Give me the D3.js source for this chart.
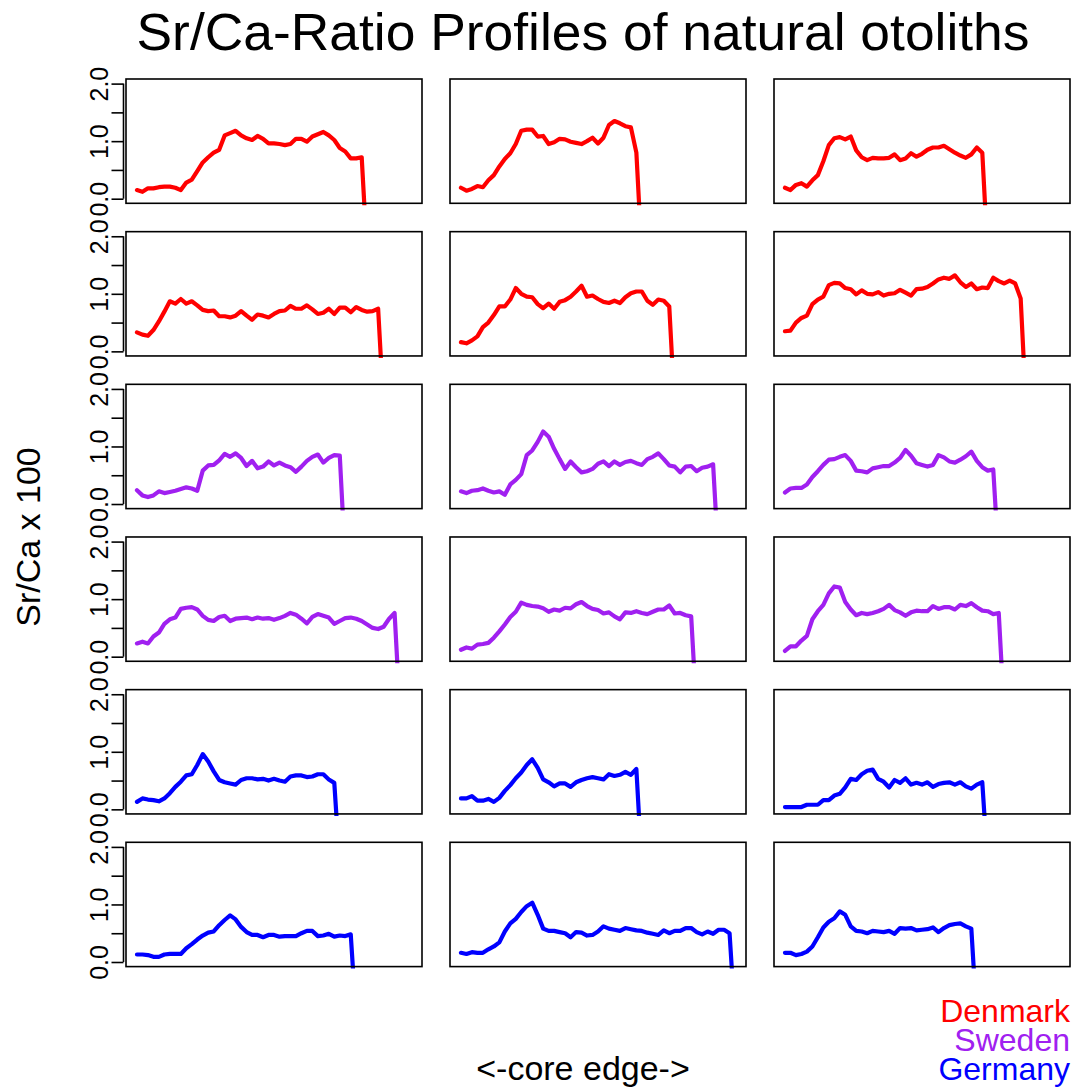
<!DOCTYPE html>
<html>
<head>
<meta charset="utf-8">
<script src="https://cdn.jsdelivr.net/npm/d3@7"></script>
<style>
  html, body { margin: 0; padding: 0; background: #fff; }
  svg { display: block; font-family: "Liberation Sans", Arial, Helvetica, sans-serif; }
</style>
</head>
<body>
<svg id="chart" width="1078" height="1090"></svg>
<script>
// Sr/Ca x 100 profiles, core (left) to edge (right), one reading every 20 units.
// The last reading of each profile is the off-scale drop at the otolith edge.
const dk1 = [0.15,0.12,0.18,0.18,0.20,0.21,0.21,0.19,0.15,0.28,0.33,0.48,0.63,0.72,0.80,0.85,1.10,1.14,1.18,1.10,1.05,1.02,1.09,1.04,0.96,0.96,0.95,0.93,0.95,1.04,1.04,0.99,1.08,1.12,1.16,1.10,1.02,0.88,0.82,0.70,0.70,0.72,-1];
const dk2 = [0.19,0.14,0.17,0.22,0.20,0.32,0.41,0.56,0.69,0.79,0.95,1.18,1.20,1.20,1.08,1.09,0.95,0.98,1.04,1.03,0.99,0.97,0.95,1.00,1.06,0.96,1.06,1.28,1.35,1.31,1.26,1.24,0.80,-1];
const dk3 = [0.19,0.15,0.24,0.27,0.21,0.32,0.41,0.65,0.93,1.05,1.07,1.03,1.08,0.84,0.72,0.67,0.71,0.70,0.70,0.71,0.77,0.67,0.70,0.79,0.73,0.78,0.85,0.89,0.89,0.92,0.86,0.80,0.75,0.71,0.77,0.89,0.80,-1];
const dk4 = [0.33,0.29,0.27,0.37,0.52,0.69,0.87,0.83,0.91,0.83,0.87,0.80,0.72,0.70,0.71,0.61,0.61,0.59,0.62,0.70,0.62,0.55,0.64,0.62,0.59,0.65,0.70,0.71,0.79,0.74,0.74,0.80,0.73,0.65,0.67,0.74,0.65,0.76,0.76,0.68,0.77,0.72,0.69,0.70,0.74,-1];
const dk5 = [0.16,0.14,0.19,0.26,0.42,0.50,0.63,0.78,0.78,0.90,1.10,1.00,0.95,0.94,0.82,0.75,0.83,0.74,0.86,0.89,0.95,1.04,1.14,0.95,0.97,0.91,0.86,0.84,0.88,0.84,0.94,1.01,1.04,1.04,0.88,0.81,0.90,0.88,0.78,-1];
const dk6 = [0.35,0.36,0.50,0.58,0.62,0.82,0.90,0.95,1.15,1.19,1.18,1.10,1.08,0.99,1.06,1.00,0.99,1.03,0.97,1.00,1.01,1.07,1.02,0.97,1.08,1.09,1.12,1.18,1.25,1.28,1.26,1.32,1.20,1.12,1.18,1.08,1.11,1.10,1.28,1.22,1.18,1.23,1.18,0.92,-1];

const se1 = [0.24,0.15,0.12,0.15,0.22,0.19,0.21,0.23,0.26,0.29,0.27,0.23,0.58,0.67,0.68,0.76,0.87,0.82,0.88,0.80,0.66,0.75,0.62,0.65,0.74,0.67,0.72,0.67,0.64,0.56,0.65,0.75,0.82,0.86,0.72,0.80,0.85,0.84,-1];
const se2 = [0.22,0.19,0.23,0.24,0.27,0.23,0.20,0.22,0.16,0.34,0.42,0.52,0.85,0.93,1.08,1.26,1.17,0.96,0.78,0.61,0.74,0.64,0.55,0.57,0.61,0.70,0.74,0.66,0.74,0.68,0.73,0.75,0.71,0.68,0.78,0.82,0.88,0.78,0.67,0.65,0.55,0.65,0.66,0.57,0.63,0.65,0.69,-1];
const se3 = [0.20,0.27,0.28,0.28,0.34,0.47,0.57,0.68,0.77,0.78,0.82,0.85,0.75,0.58,0.57,0.55,0.62,0.64,0.66,0.66,0.72,0.80,0.94,0.84,0.71,0.68,0.65,0.68,0.85,0.81,0.74,0.72,0.77,0.83,0.91,0.75,0.64,0.58,0.60,-1];
const se4 = [0.23,0.26,0.23,0.35,0.42,0.57,0.65,0.68,0.83,0.85,0.86,0.82,0.71,0.64,0.62,0.69,0.71,0.62,0.66,0.67,0.68,0.65,0.68,0.66,0.67,0.64,0.67,0.71,0.76,0.73,0.66,0.58,0.69,0.74,0.71,0.68,0.57,0.62,0.67,0.68,0.66,0.62,0.56,0.50,0.48,0.52,0.66,0.76,-1];
const se5 = [0.12,0.16,0.14,0.21,0.22,0.24,0.33,0.44,0.56,0.69,0.78,0.94,0.90,0.88,0.87,0.84,0.78,0.82,0.80,0.85,0.84,0.91,0.95,0.88,0.83,0.81,0.75,0.77,0.70,0.65,0.77,0.76,0.79,0.76,0.74,0.78,0.82,0.82,0.89,0.75,0.76,0.72,0.70,-1];
const se6 = [0.10,0.18,0.18,0.28,0.36,0.65,0.79,0.90,1.10,1.22,1.20,0.95,0.82,0.72,0.76,0.74,0.76,0.79,0.83,0.90,0.81,0.77,0.71,0.77,0.80,0.79,0.79,0.88,0.83,0.86,0.86,0.82,0.90,0.88,0.93,0.86,0.80,0.79,0.74,0.76,-1];

const de1 = [0.13,0.19,0.17,0.16,0.14,0.19,0.28,0.39,0.48,0.59,0.61,0.77,0.96,0.83,0.66,0.51,0.47,0.45,0.43,0.51,0.54,0.54,0.52,0.53,0.50,0.53,0.50,0.48,0.57,0.59,0.59,0.56,0.57,0.61,0.61,0.52,0.46,-1];
const de2 = [0.19,0.19,0.23,0.15,0.15,0.18,0.13,0.20,0.32,0.42,0.54,0.64,0.77,0.87,0.72,0.52,0.47,0.40,0.45,0.45,0.39,0.47,0.51,0.54,0.56,0.54,0.52,0.61,0.58,0.60,0.65,0.60,0.70,-1];
const de3 = [0.04,0.04,0.04,0.04,0.08,0.08,0.08,0.16,0.16,0.24,0.27,0.38,0.53,0.51,0.61,0.67,0.69,0.53,0.48,0.38,0.51,0.46,0.54,0.43,0.46,0.43,0.47,0.39,0.44,0.46,0.47,0.43,0.47,0.40,0.36,0.43,0.47,-1];
const de4 = [0.13,0.13,0.12,0.09,0.09,0.13,0.14,0.14,0.14,0.24,0.31,0.39,0.46,0.51,0.53,0.64,0.73,0.81,0.74,0.61,0.52,0.47,0.47,0.43,0.47,0.47,0.44,0.45,0.45,0.45,0.50,0.54,0.54,0.45,0.46,0.49,0.44,0.46,0.45,0.48,-1];
const de5 = [0.16,0.14,0.17,0.16,0.16,0.22,0.27,0.34,0.53,0.67,0.75,0.87,0.97,1.03,0.82,0.58,0.54,0.54,0.52,0.50,0.43,0.52,0.51,0.46,0.47,0.53,0.62,0.58,0.56,0.54,0.59,0.57,0.55,0.54,0.51,0.49,0.47,0.55,0.50,0.54,0.54,0.59,0.59,0.52,0.48,0.53,0.49,0.56,0.56,0.50,-1];
const de6 = [0.16,0.16,0.12,0.14,0.18,0.27,0.43,0.60,0.70,0.76,0.88,0.82,0.62,0.54,0.53,0.50,0.54,0.53,0.52,0.54,0.49,0.59,0.58,0.59,0.55,0.56,0.57,0.60,0.52,0.59,0.64,0.66,0.67,0.62,0.58,-1];

// Panels in reading order (row by row, three per row) and their country
const profiles = [dk1, dk2, dk3, dk4, dk5, dk6, se1, se2, se3, se4, se5, se6, de1, de2, de3, de4, de5, de6];
const panelCountry = [0,0,0,0,0,0, 1,1,1,1,1,1, 2,2,2,2,2,2];
const countries = ["Denmark", "Sweden", "Germany"];
const countryColors = ["#FF0000", "#A020F0", "#0000FF"];

const sampleStep = 20;
const xLimits = [0, 1000];
const yLimits = [0, 2];
const yTicks = [0, 0.5, 1, 1.5, 2];
const yLabelled = [0, 1, 2];

const titleText = "Sr/Ca-Ratio Profiles of natural otoliths";
const yTitle = "Sr/Ca x 100";
const xTitle = "<-core edge->";

// ---- layout ----
const svg = d3.select("#chart");
const nCols = 3;
const colLeft = 126, colPitch = 324, panelW = 296;
const rowTop = 79, rowPitch = 152.66, panelH = 124.3;

// R-style 4% range extension on both axes
function padded([a, b]) { const d = (b - a) * 0.04; return [a - d, b + d]; }

const defs = svg.append("defs");

profiles.forEach((vals, k) => {
  const col = k % nCols, row = Math.floor(k / nCols);
  const left = colLeft + col * colPitch;
  const top = rowTop + row * rowPitch;

  const x = d3.scaleLinear().domain(padded(xLimits)).range([left, left + panelW]);
  const y = d3.scaleLinear().domain(padded(yLimits)).range([top + panelH, top]);

  const clipId = "clip" + k;
  defs.append("clipPath").attr("id", clipId)
    .append("rect")
    .attr("x", left).attr("y", top)
    .attr("width", panelW).attr("height", panelH + 2);

  const g = svg.append("g");

  // profile line
  const line = d3.line()
    .x((d, i) => x(i * sampleStep))
    .y(d => y(d));
  g.append("path")
    .datum(vals)
    .attr("clip-path", `url(#${clipId})`)
    .attr("d", line)
    .attr("fill", "none")
    .attr("stroke", countryColors[panelCountry[k]])
    .attr("stroke-width", 4.2)
    .attr("stroke-linejoin", "round")
    .attr("stroke-linecap", "round");

  // panel frame
  g.append("rect")
    .attr("x", left).attr("y", top)
    .attr("width", panelW).attr("height", panelH)
    .attr("fill", "none")
    .attr("stroke", "#000")
    .attr("stroke-width", 1.6);

  // y axis only on the first column: ticks every half unit, labels at whole units
  if (col !== 0) return;
  const axisX = left - 2.5;
  const axis = d3.axisLeft(y)
    .tickValues(yTicks)
    .tickSize(12)
    .tickSizeOuter(0)
    .tickFormat(d => yLabelled.includes(d) ? d3.format(".1f")(d) : "");
  const ag = g.append("g")
    .attr("transform", `translate(${axisX},0)`)
    .call(axis);
  ag.select(".domain")
    .attr("d", `M0,${y(yTicks[0])}V${y(yTicks[yTicks.length - 1])}`)
    .attr("stroke-width", 1.6);
  ag.selectAll(".tick line").attr("stroke-width", 1.6);
  ag.selectAll(".tick text")
    .attr("x", null).attr("dy", null)
    .attr("transform", "translate(-16,0) rotate(-90)")
    .attr("text-anchor", "middle")
    .attr("fill", "#000")
    .style("font-size", "25px")
    .style("font-family", "'Liberation Sans', Arial, sans-serif");
});

// ---- titles ----
svg.append("text")
  .attr("x", 583).attr("y", 50)
  .attr("text-anchor", "middle")
  .attr("textLength", 893)
  .attr("lengthAdjust", "spacingAndGlyphs")
  .style("font-size", "52px")
  .text(titleText);

svg.append("text")
  .attr("transform", "translate(40,537) rotate(-90)")
  .attr("text-anchor", "middle")
  .style("font-size", "34px")
  .text(yTitle);

svg.append("text")
  .attr("x", 583).attr("y", 1080)
  .attr("text-anchor", "middle")
  .style("font-size", "34px")
  .text(xTitle);

// ---- country key ----
const keyBaselines = [1022, 1050.5, 1080];
countries.forEach((c, i) => {
  svg.append("text")
    .attr("x", 1070).attr("y", keyBaselines[i])
    .attr("text-anchor", "end")
    .attr("fill", countryColors[i])
    .style("font-size", "32px")
    .text(c);
});
</script>
</body>
</html>
